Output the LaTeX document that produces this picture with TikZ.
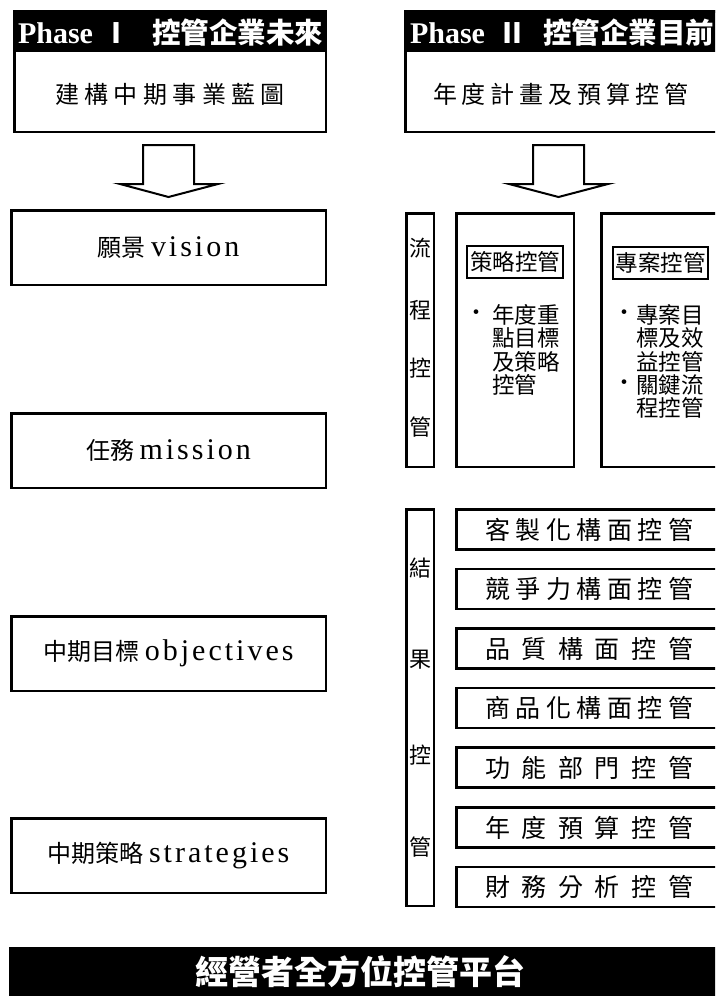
\documentclass[tikz,border=0pt]{standalone}
\usepackage{fontspec}
\setmainfont{Liberation Serif}
\newfontfamily\cjk{Noto Sans CJK TC}
\newfontfamily\lat[LetterSpace=10]{Liberation Serif}
\newcommand\fs[1]{\fontsize{#1}{#1}\selectfont}
\begin{document}
\begin{tikzpicture}[x=1pt,y=-1pt,
  box/.style={draw, line width=2.5pt, inner sep=0pt, outer sep=0pt},
  lbox/.style={draw, line width=2pt, inner sep=0pt, outer sep=0pt},
  band/.style={fill=black, inner sep=0pt, outer sep=0pt, anchor=north west},
  txt/.style={inner sep=0pt, outer sep=0pt},
  hdr/.style={inner sep=0pt, outer sep=0pt, text=white},
  bigarrow/.style={draw, line width=2pt, line join=miter, fill=white}]
\useasboundingbox (0,0) rectangle (715,996);
\clip (0,0) rectangle (715,996);

% ---------- Phase I ----------
\node[box, minimum width=311.5pt, minimum height=120.5pt] (p1) at (170,71.5) {};
\node[band, minimum width=314pt, minimum height=42pt] (p1h) at (13,10) {};
\node[hdr, anchor=base west] (p1a) at (18,43) {\bfseries\fs{30}Phase};
\node[hdr] (p1b) at (116,33) {\cjk\bfseries\fs{28}Ⅰ};
\node[hdr, anchor=west] (p1c) at (152,33) {\cjk\bfseries\fs{28.5}控管企業未來};
\node[txt] (p1t) at (170,94) {\cjk\fs{24}\makebox[230pt][s]{建 構 中 期 事 業 藍 圖}};

% ---------- Phase II ----------
\node[box, minimum width=340pt, minimum height=120.5pt, anchor=west] (p2) at (405.25,71.5) {};
\node[band, minimum width=320pt, minimum height=42pt] (p2h) at (404,10) {};
\node[hdr, anchor=base west] (p2a) at (410,43) {\bfseries\fs{30}Phase};
\node[hdr] (p2b) at (512,33) {\cjk\bfseries\fs{28}Ⅱ};
\node[hdr, anchor=west] (p2c) at (543,33) {\cjk\bfseries\fs{28.5}控管企業目前};
\node[txt] (p2t) at (560.5,94) {\cjk\fs{24}\makebox[255pt][s]{年 度 計 畫 及 預 算 控 管}};

% ---------- arrows ----------
\coordinate (a1) at (168.5,145);
\draw[bigarrow] ([xshift=-25.5pt]a1) -- ([xshift=25.5pt]a1) -- ([xshift=25.5pt,yshift=-39pt]a1)
  -- ([xshift=49.5pt,yshift=-39pt]a1) -- ([yshift=-52pt]a1) -- ([xshift=-48.5pt,yshift=-39pt]a1)
  -- ([xshift=-25.5pt,yshift=-39pt]a1) -- cycle;
\coordinate (a2) at (558.5,145);
\draw[bigarrow] ([xshift=-25.5pt]a2) -- ([xshift=25.5pt]a2) -- ([xshift=25.5pt,yshift=-39pt]a2)
  -- ([xshift=49.5pt,yshift=-39pt]a2) -- ([yshift=-52pt]a2) -- ([xshift=-49.5pt,yshift=-39pt]a2)
  -- ([xshift=-25.5pt,yshift=-39pt]a2) -- cycle;

% ---------- left column ----------
\node[box, minimum width=314.5pt, minimum height=74.5pt] (vision) at (168.5,247.5) {};
\node[txt] (visiont) at (vision) {\cjk\fs{24}願景\ \lat\fs{30}vision};
\node[box, minimum width=314.5pt, minimum height=74.5pt] (mission) at (168.5,450.5) {};
\node[txt] (missiont) at (mission) {\cjk\fs{24}任務\ \lat\fs{30}mission};
\node[box, minimum width=314.5pt, minimum height=74.5pt] (obj) at (168.5,653.5) {};
\node[txt] (objt) at (obj) {\cjk\fs{24}中期目標\ \lat\fs{30}objectives};
\node[box, minimum width=314.5pt, minimum height=74.5pt] (strat) at (168.5,855.5) {};
\node[txt] (stratt) at (strat) {\cjk\fs{24}中期策略\ \lat\fs{30}strategies};

% ---------- process control ----------
\node[box, minimum width=27.5pt, minimum height=253.5pt] (flow) at (420,340) {};
\node[txt] (flow1) at (420,248) {\cjk\fs{22}流};
\node[txt] (flow2) at (420,310) {\cjk\fs{22}程};
\node[txt] (flow3) at (420,368) {\cjk\fs{22}控};
\node[txt] (flow4) at (420,427) {\cjk\fs{22}管};

\node[box, minimum width=117.5pt, minimum height=253.5pt] (sc) at (515,340) {};
\node[lbox, minimum width=96pt, minimum height=32pt] (scl) at (515,262) {};
\node[txt] (sclt) at (scl) {\cjk\fs{22.5}策略控管};
\node[txt] (scb) at (476,315) {\cjk\fs{22}・};
\node[txt, anchor=west] (sc1) at (492,315) {\cjk\fs{22.5}年度重};
\node[txt, anchor=west] (sc2) at (492,338) {\cjk\fs{22.5}點目標};
\node[txt, anchor=west] (sc3) at (492,362) {\cjk\fs{22.5}及策略};
\node[txt, anchor=west] (sc4) at (492,385) {\cjk\fs{22.5}控管};

\node[box, minimum width=140pt, minimum height=253.5pt, anchor=west] (pc) at (601.25,340) {};
\node[lbox, minimum width=95pt, minimum height=32pt] (pcl) at (660.5,263) {};
\node[txt] (pclt) at (pcl) {\cjk\fs{22.5}專案控管};
\node[txt] (pcb1) at (624,315) {\cjk\fs{22}・};
\node[txt, anchor=west] (pc1) at (636,315) {\cjk\fs{22.5}專案目};
\node[txt, anchor=west] (pc2) at (636,338) {\cjk\fs{22.5}標及效};
\node[txt, anchor=west] (pc3) at (636,362) {\cjk\fs{22.5}益控管};
\node[txt] (pcb2) at (624,385) {\cjk\fs{22}・};
\node[txt, anchor=west] (pc4) at (636,385) {\cjk\fs{22.5}關鍵流};
\node[txt, anchor=west] (pc5) at (636,408) {\cjk\fs{22.5}程控管};

% ---------- result control ----------
\node[box, minimum width=27.5pt, minimum height=396.5pt] (res) at (420,707.5) {};
\node[txt] (res1) at (420,568) {\cjk\fs{22}結};
\node[txt] (res2) at (420,660) {\cjk\fs{22}果};
\node[txt] (res3) at (420,755) {\cjk\fs{22}控};
\node[txt] (res4) at (420,847) {\cjk\fs{22}管};

\foreach \n/\y/\t in {r1/529.5/客 製 化 構 面 控 管, r2/589/競 爭 力 構 面 控 管,
  r3/648.5/品 質 構 面 控 管, r4/708/商 品 化 構 面 控 管, r5/767.5/功 能 部 門 控 管,
  r6/827.5/年 度 預 算 控 管, r7/887/財 務 分 析 控 管}{
  \node[box, minimum width=290pt, minimum height=40pt, anchor=west] (\n) at (456.25,\y) {};
  \node[txt] (\n t) at (589,\y) {\cjk\fs{25}\makebox[208pt][s]{\t}};
}

% ---------- bottom bar ----------
\node[band, minimum width=710pt, minimum height=52pt] (bar) at (9,947) {};
\node[hdr] (bart) at (360,972) {\cjk\bfseries\fs{33}經營者全方位控管平台};
\end{tikzpicture}
\end{document}
